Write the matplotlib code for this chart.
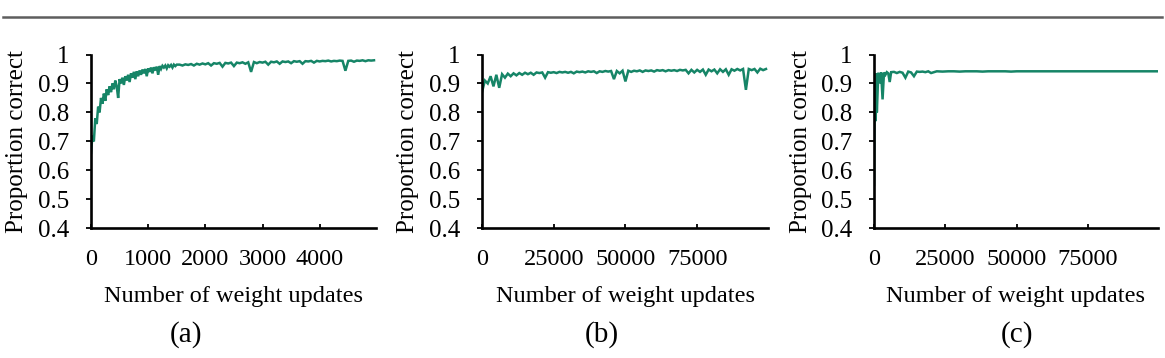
import numpy as np
import matplotlib
matplotlib.use("Agg")
import matplotlib.pyplot as plt
from matplotlib.lines import Line2D

plt.rcParams['font.family'] = ['Liberation Serif', 'DejaVu Serif']

# ---------------- data ----------------
updates_a = np.concatenate([np.arange(0, 1525, 25), np.arange(1550, 5000, 50)])
correct_a = [
    # 0 .. 1500 (every 25)
    0.66, 0.72, 0.70, 0.78, 0.76, 0.82, 0.80, 0.85, 0.83, 0.865,
    0.84, 0.88, 0.86, 0.89, 0.87, 0.90, 0.88, 0.91, 0.89, 0.85,
    0.915, 0.90, 0.92, 0.895, 0.925, 0.91, 0.93, 0.905, 0.935, 0.92,
    0.94, 0.915, 0.942, 0.925, 0.945, 0.93, 0.948, 0.935, 0.95, 0.925,
    0.952, 0.94, 0.955, 0.935, 0.956, 0.945, 0.958, 0.93, 0.96, 0.95,
    0.961, 0.955, 0.962, 0.952, 0.963, 0.958, 0.964, 0.955, 0.965, 0.96,
    0.965,
    # 1550 .. 4950 (every 50)
    0.965, 0.962, 0.966, 0.964, 0.967, 0.962, 0.968, 0.965, 0.969,
    0.966, 0.97, 0.962, 0.97, 0.968, 0.971, 0.958, 0.971, 0.969, 0.972,
    0.96, 0.972, 0.97, 0.973, 0.968, 0.973, 0.94, 0.974, 0.97, 0.974,
    0.972, 0.975, 0.965, 0.975, 0.973, 0.976, 0.968, 0.976, 0.974, 0.976,
    0.97, 0.977, 0.975, 0.977, 0.968, 0.977, 0.976, 0.978, 0.972, 0.978,
    0.976, 0.978, 0.977, 0.979, 0.976, 0.978, 0.977, 0.979, 0.978, 0.944,
    0.978, 0.979, 0.975, 0.979, 0.978, 0.98, 0.977, 0.98, 0.979, 0.98,
]

updates_b = np.arange(0, 100000, 1000)
correct_b = [
    0.87, 0.91, 0.90, 0.925, 0.89, 0.93, 0.885, 0.932, 0.92, 0.934,
    0.925, 0.935, 0.928, 0.936, 0.93, 0.937, 0.932, 0.937, 0.93, 0.938,
    0.936, 0.938, 0.92, 0.939, 0.937, 0.939, 0.936, 0.94, 0.938, 0.94,
    0.937, 0.94, 0.935, 0.941, 0.939, 0.941, 0.938, 0.942, 0.94, 0.942,
    0.936, 0.942, 0.94, 0.943, 0.941, 0.943, 0.915, 0.943, 0.935, 0.944,
    0.907, 0.944, 0.94, 0.944, 0.942, 0.945, 0.94, 0.945, 0.943, 0.945,
    0.941, 0.946, 0.944, 0.946, 0.942, 0.946, 0.944, 0.946, 0.943, 0.947,
    0.945, 0.947, 0.935, 0.947, 0.938, 0.947, 0.94, 0.948, 0.93, 0.948,
    0.942, 0.948, 0.935, 0.949, 0.94, 0.949, 0.93, 0.949, 0.944, 0.95,
    0.945, 0.95, 0.878, 0.95, 0.946, 0.95, 0.938, 0.951, 0.946, 0.95,
]

updates_c = [
    0, 200, 400, 600, 800, 1000, 1500, 2000, 2500, 3000,
    3500, 4000, 4500, 5000, 5500, 6000, 7000, 8000, 9000, 10000,
    11000, 12000, 13000, 14000, 15000, 16000, 17000, 18000, 19000, 20000,
    22000, 24000, 26000, 28000, 30000, 32000, 34000, 36000, 38000, 40000,
    42000, 44000, 46000, 48000, 50000, 52000, 54000, 56000, 58000, 60000,
    62000, 64000, 66000, 68000, 70000, 72000, 74000, 76000, 78000, 80000,
    82000, 84000, 86000, 88000, 90000, 92000, 94000, 96000, 98000, 99500,
]
correct_c = [
    0.55, 0.80, 0.93, 0.77, 0.935, 0.80, 0.937, 0.90, 0.938, 0.845,
    0.938, 0.93, 0.939, 0.935, 0.905, 0.939, 0.94, 0.936, 0.94, 0.937,
    0.92, 0.941, 0.938, 0.925, 0.941, 0.94, 0.941, 0.939, 0.942, 0.936,
    0.942, 0.941, 0.942, 0.942, 0.941, 0.942, 0.942, 0.942, 0.941, 0.942,
    0.942, 0.942, 0.942, 0.941, 0.942, 0.942, 0.942, 0.942, 0.942, 0.942,
    0.942, 0.942, 0.942, 0.942, 0.942, 0.942, 0.942, 0.942, 0.942, 0.942,
    0.942, 0.942, 0.942, 0.942, 0.942, 0.942, 0.942, 0.942, 0.942, 0.942,
]

yticks = [0.4, 0.5, 0.6, 0.7, 0.8, 0.9, 1.0]
ytick_labels = ['0.4', '0.5', '0.6', '0.7', '0.8', '0.9', '1']
xticks_a = [0, 1000, 2000, 3000, 4000]
xticks_bc = [0, 25000, 50000, 75000]
panel_labels = ['(a)', '(b)', '(c)']
xlabel = 'Number of weight updates'
ylabel = 'Proportion correct'

# ---------------- layout ----------------
W, H = 1165, 358
fig = plt.figure(figsize=(W / 100, H / 100), dpi=100)

line_color = '#168567'
bottom = 1 - 228.3 / H
top = 1 - 54.5 / H
panels = [
    dict(left=91, right=376, x=updates_a, y=correct_a, xmax=4985, xt=xticks_a, lab_x=186),
    dict(left=482, right=768, x=updates_b, y=correct_b, xmax=99700, xt=xticks_bc, lab_x=602),
    dict(left=874, right=1158, x=updates_c, y=correct_c, xmax=99500, xt=xticks_bc, lab_x=1017),
]

for p, lab in zip(panels, panel_labels):
    ax = fig.add_axes([p['left'] / W, bottom, (p['right'] - p['left']) / W, top - bottom])
    ax.plot(p['x'], p['y'], color=line_color, lw=1.8, solid_joinstyle='miter')
    ax.set_xlim(0, p['xmax'])
    ax.set_ylim(0.4, 1.0)
    ax.set_yticks(yticks)
    ax.set_yticklabels(ytick_labels)
    ax.set_xticks(p['xt'])
    ax.set_xticklabels([str(v) for v in p['xt']])
    for s in ['top', 'right']:
        ax.spines[s].set_visible(False)
    for s in ['left', 'bottom']:
        ax.spines[s].set_linewidth(1.9)
        ax.spines[s].set_color('black')
    ax.tick_params(axis='y', direction='out', length=3.5, width=1.3, pad=12, labelsize=18)
    ax.tick_params(axis='x', direction='in', length=3, width=1.3, pad=15, labelsize=17.5)
    ax.set_xlabel(xlabel, fontsize=17.5)
    ax.xaxis.set_label_coords(0.5, (228.3 - 297) / 173.8)
    ax.xaxis.label.set_verticalalignment('center')
    ax.set_ylabel(ylabel, fontsize=18)
    ax.yaxis.set_label_coords(-0.258, 0.5)
    ax.yaxis.label.set_verticalalignment('center')
    ax.patch.set_alpha(0)
    fig.text(p['lab_x'] / W, 1 - 335 / H, lab, ha='center', va='center', fontsize=21)

fig.add_artist(Line2D([0.003, 0.997], [1 - 16.5 / H, 1 - 16.5 / H],
                      color='#5e5e5e', lw=1.8, transform=fig.transFigure))

fig.savefig('out.png', dpi=100)
